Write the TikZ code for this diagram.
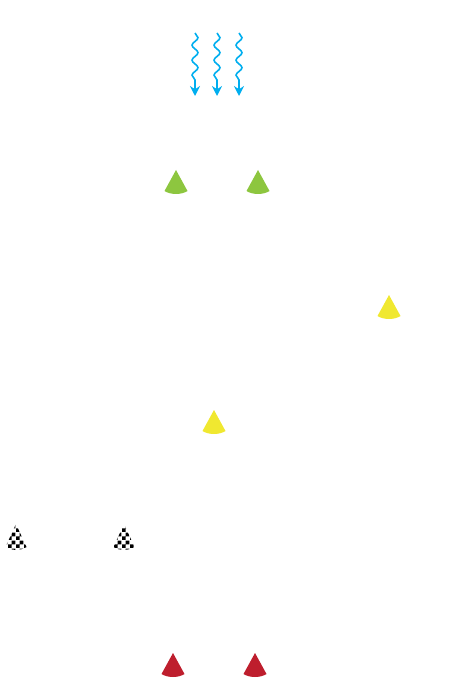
\documentclass[tikz,border=0pt]{standalone}
\usetikzlibrary{arrows.meta, decorations.pathmorphing, patterns}

\definecolor{raincyan}{RGB}{0,174,239}
\definecolor{conegreen}{RGB}{141,198,63}
\definecolor{coneyellow}{RGB}{240,232,48}
\definecolor{conered}{RGB}{190,30,45}

% coarse checkerboard for the flag cones
\pgfdeclarepatternformonly{bigchecker}{\pgfpointorigin}{\pgfqpoint{7.6pt}{7.6pt}}{\pgfqpoint{7.6pt}{7.6pt}}{%
  \pgfpathrectangle{\pgfpointorigin}{\pgfqpoint{3.8pt}{3.8pt}}%
  \pgfpathrectangle{\pgfqpoint{3.8pt}{3.8pt}}{\pgfqpoint{3.8pt}{3.8pt}}%
  \pgfusepath{fill}}

\begin{document}
\begin{tikzpicture}[x=1pt, y=-1pt,
          rain/.style={raincyan, line width=1.6pt,
            decorate, decoration={snake, segment length=15pt, amplitude=3pt, post length=10pt},
            -{Stealth[length=10pt, width=10pt]}},
          cone/.pic={
            \fill[pic actions] (0,-12) -- (-11.5,9) .. controls (-5,13) and (5,13) .. (11.5,9) -- cycle;
          },
          smallcone/.pic={
            \fill[pic actions] (0,-13) -- (-10.5,10) .. controls (-4,14) and (4,14) .. (10.5,10) -- cycle;
          }
        ]
        \useasboundingbox (0,0) rectangle (461,700);
        % rain
        \foreach \x [count=\i] in {195,217,239} {
          \coordinate (r\i top) at (\x,33);
          \coordinate (r\i bot) at (\x,96);
          \draw[rain] (r\i top) -- (r\i bot);
        }
        % green cones
        \pic[fill=conegreen] (green1) at (176,182) {cone};
        \pic[fill=conegreen] (green2) at (258,182) {cone};
        % yellow cones
        \pic[fill=coneyellow] (yellow1) at (389,307) {cone};
        \pic[fill=coneyellow] (yellow2) at (214,422) {cone};
        % checkered cones
        \pic[pattern=bigchecker, pattern color=black] (flag1) at (16,537) {smallcone};
        \pic[pattern=bigchecker, pattern color=black] (flag2) at (124,537) {smallcone};
        % red cones
        \pic[fill=conered] (red1) at (173,665) {cone};
        \pic[fill=conered] (red2) at (255,665) {cone};
      \end{tikzpicture}
\end{document}
